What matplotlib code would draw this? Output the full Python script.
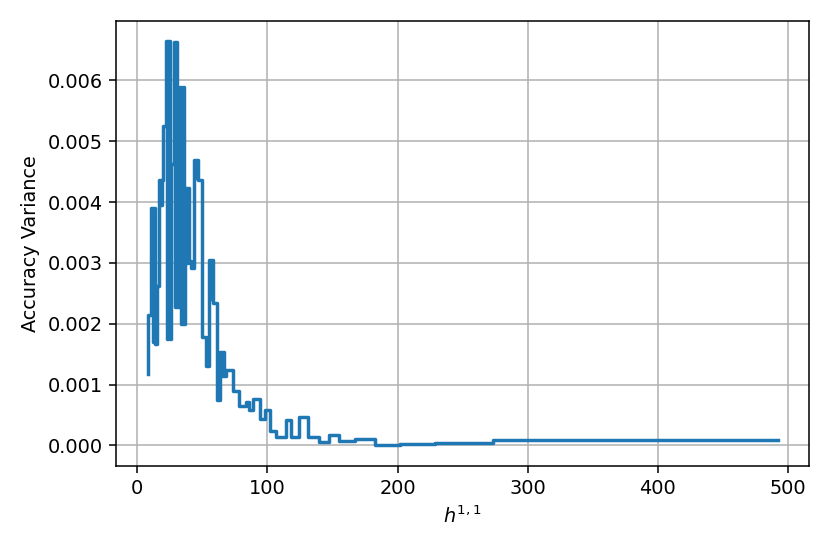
import matplotlib
matplotlib.use("Agg")
import matplotlib.pyplot as plt

# h^{1,1} values (right edges of step levels, 'pre' steps)
h11 = [8, 11, 12, 13, 14, 15, 17, 18, 19, 20, 22,
       23, 24, 25, 26, 28, 29, 30, 31, 32, 33,
       34, 35, 36, 37, 38, 39, 40, 41, 44, 45, 46, 47, 50,
       53, 55, 56, 57, 58, 61, 64, 65, 66, 67, 68,
       74, 78, 84, 86, 89, 94, 98, 102, 107, 114, 118,
       124, 131, 140, 147, 155, 167, 183, 202, 229, 273, 492]

# accuracy variance levels
variance = [0.00118, 0.00215, 0.00390, 0.00170, 0.00390, 0.00166, 0.00262, 0.00437, 0.00395, 0.00437, 0.00525,
            0.00665, 0.00175, 0.00665, 0.00175, 0.00462, 0.00663, 0.00227, 0.00663, 0.00227, 0.00298,
            0.00590, 0.00200, 0.00590, 0.00200, 0.00423, 0.00300, 0.00423, 0.00303, 0.00292, 0.00470, 0.00440, 0.00470, 0.00437,
            0.00178, 0.00130, 0.00305, 0.00240, 0.00305, 0.00235, 0.00075, 0.00153, 0.00114, 0.00153, 0.00114,
            0.00124, 0.00089, 0.00065, 0.00071, 0.00058, 0.00076, 0.00043, 0.00058, 0.00024, 0.00014, 0.00042,
            0.00014, 0.00046, 0.00014, 0.00005, 0.00018, 0.00008, 0.00011, 0.00000, 0.00003, 0.00004, 0.00009]

fig = plt.figure(figsize=(6.0, 4.005), dpi=138.33)
ax = fig.add_axes([0.1398, 0.1594, 0.975 - 0.1398, 0.9626 - 0.1594])
ax.step(h11, variance, where='pre', color='#1f77b4', linewidth=1.8)
ax.grid(True)
ax.set_xlabel('$h^{1,1}$')
ax.set_ylabel('Accuracy Variance')
fig.savefig('out.png', dpi=138.33)
